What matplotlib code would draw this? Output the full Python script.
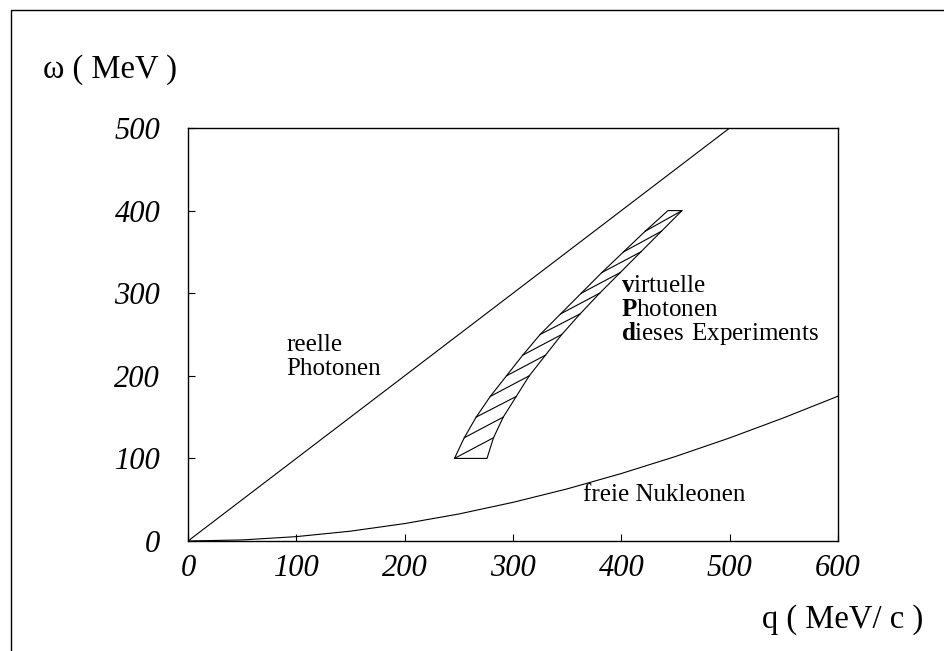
import matplotlib.pyplot as plt
from matplotlib.patches import Rectangle
import numpy as np

plt.rcParams['font.family'] = ['Liberation Serif', 'DejaVu Serif']
plt.rcParams['mathtext.fontset'] = 'custom'
plt.rcParams['mathtext.rm'] = 'Liberation Serif'
plt.rcParams['mathtext.bf'] = 'Liberation Serif:bold'

# reelle Photonen: omega = q
q_photon = [0, 500]
w_photon = [0, 500]

# freie Nukleonen
q_nuc = [0, 50, 100, 150, 200, 250, 300, 350, 400, 450, 500, 550, 600]
w_nuc = [0, 1.3, 5.3, 11.9, 21.1, 32.7, 46.8, 63.1, 81.7, 102.3, 124.8, 149.2, 175.3]

# Bereich virtuelle Photonen (Rand links / rechts)
w_band = [100, 125, 150, 175, 200, 225, 250, 275, 300, 325, 350, 375, 400]
q_left = [246, 255, 266, 279, 294, 309, 325, 344, 363, 382, 402, 422, 443]
q_right = [276, 282, 291, 303, 315, 330, 345, 362, 380, 399, 418, 437, 456]

xticks = [0, 100, 200, 300, 400, 500, 600]
yticks = [0, 100, 200, 300, 400, 500]

fig = plt.figure(figsize=(9.45, 6.51), dpi=100)
ax = fig.add_axes([188/945, 1-541/651, 650/945, 413/651])

lw = 0.8
ax.plot(q_photon, w_photon, color='black', lw=lw)
ax.plot(q_nuc, w_nuc, color='black', lw=lw)

poly_q = q_left + q_right[::-1]
poly_w = w_band + w_band[::-1]
ax.fill(poly_q, poly_w, facecolor='none', edgecolor='black', lw=lw)
# Schraffur: links bei w_i -> rechts bei w_(i+1)
for i in range(len(w_band)-1):
    ax.plot([q_left[i], q_right[i+1]], [w_band[i], w_band[i+1]], color='black', lw=lw)

ax.set_xlim(0, 600)
ax.set_ylim(0, 500)
ax.set_xticks(xticks)
ax.set_yticks(yticks)
ax.set_xticklabels([str(t) for t in xticks], fontstyle='italic', fontsize=22)
ax.set_yticklabels([str(t) for t in yticks], fontstyle='italic', fontsize=22)
ax.tick_params(direction='in', length=5, width=0.8, top=False, right=False)
ax.tick_params(axis='x', pad=9)
ax.tick_params(axis='y', pad=20)
for s in ax.spines.values():
    s.set_linewidth(1.0)

fs = 18
ax.text(91, 230, 'reelle', fontsize=fs, va='baseline')
ax.text(91, 201, 'Photonen', fontsize=fs, va='baseline')
ax.text(400, 301, r'$\mathbf{v}\mathrm{irtuelle}$', fontsize=fs, va='baseline')
ax.text(400, 272, r'$\mathbf{P}\mathrm{hotonen}$', fontsize=fs, va='baseline')
ax.text(400, 243, r'$\mathbf{d}\mathrm{ieses\ Experiments}$', fontsize=fs, va='baseline')
ax.text(365, 48, 'freie Nukleonen', fontsize=fs, va='baseline')

fig.text(43/945, 1-78/651, 'ω ( MeV )', fontsize=23.5, va='baseline')
fig.text(762/945, 1-628/651, 'q ( MeV/ c )', fontsize=23.5, va='baseline')

# Rahmen (links und oben)
fig.patches.append(Rectangle((11/945, -0.5), 2, 0.5 + 1 - 9.5/651, transform=fig.transFigure,
                             fill=False, edgecolor='black', lw=1.0))

fig.savefig('out.png', dpi=100)
